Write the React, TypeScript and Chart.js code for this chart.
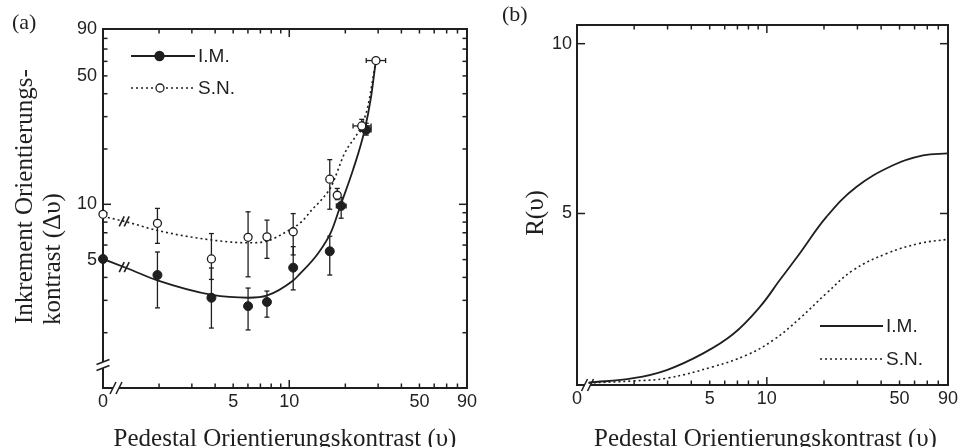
import React, { useEffect, useRef } from 'react';
import { Chart, registerables } from 'chart.js';

Chart.register(...registerables);

// ---------------- shared axis data ----------------
const logTickValues = [1, 2, 3, 4, 5, 6, 7, 8, 9, 10, 20, 30, 40, 50, 60, 70, 80, 90];
const xLabelValues = [1, 5, 10, 50, 90];
const xLabelTexts = ['0', '5', '10', '50', '90'];
const aYLabelValues = [5, 10, 50, 90];
const aYLabelTexts = ['5', '10', '50', '90'];
const bYTickValues = [5, 10];
const bYLabelTexts = ['5', '10'];
const seriesNames = ['I.M.', 'S.N.'];
const xTitle = 'Pedestal Orientierungskontrast (υ)';
const aYTitle = ['Inkrement Orientierungs-', 'kontrast (Δυ)'];
const bYTitle = 'R(υ)';
const panelLabels = ['(a)', '(b)'];

// ---------------- panel (a): measured points ----------------
const imX = [1, 1.96, 3.82, 6.01, 7.59, 10.5, 16.5, 19.0, 25.9];
const imY = [5.04, 4.12, 3.1, 2.79, 2.94, 4.52, 5.55, 9.8, 25.4];
const imYLo = [null, 2.73, 2.12, 2.07, 2.43, 3.42, 4.12, 8.4, 23.8];
const imYHi = [null, 5.5, 4.5, 3.5, 3.37, 5.88, 6.7, 10.9, 27.6];
const imXLo = [null, null, null, null, null, null, null, 17.9, 24.1];
const imXHi = [null, null, null, null, null, null, null, 20.2, 27.5];

const snX = [1, 1.96, 3.82, 6.01, 7.59, 10.5, 16.5, 18.1, 24.5, 29.2];
const snY = [8.82, 7.88, 5.04, 6.61, 6.65, 7.09, 13.7, 11.2, 26.7, 60.6];
const snYLo = [null, 6.13, 3.9, 4.03, 5.08, 5.3, 9.4, 10.6, 25.0, null];
const snYHi = [null, 9.5, 6.93, 9.1, 8.2, 8.9, 17.5, 12.2, 29.0, null];
const snXLo = [null, null, null, null, null, null, null, null, 22.0, 25.9];
const snXHi = [null, null, null, null, null, null, null, null, 27.5, 32.9];

// ---------------- panel (a): fitted curves ----------------
const imFitX = [1, 1.39, 1.96, 3.85, 6.06, 7.56, 10.5, 11.2, 14.3, 16.8, 19.0, 22.0, 25.4, 27.5, 29.2];
const imFitY = [5.04, 4.43, 3.85, 3.21, 3.1, 3.18, 3.85, 4.1, 5.41, 7.09, 10.1, 15.4, 25.4, 38.5, 61];
const snFitX = [1, 1.39, 1.96, 3.85, 6.06, 7.56, 9.9, 11.66, 13.2, 14.9, 16.8, 19.8, 24.3, 26.4, 29.2];
const snFitY = [8.6, 7.94, 7.2, 6.39, 6.17, 6.3, 7.2, 8.04, 9.31, 10.6, 12.5, 18.9, 26.5, 34, 61];

// ---------------- panel (b): R(υ) curves ----------------
const rImX = [1.15, 1.98, 2.97, 4.62, 6.65, 9.19, 11.7, 14.9, 20.6, 29.6, 46.2, 66.5, 90];
const rImY = [0.02, 0.15, 0.39, 0.88, 1.45, 2.25, 3.04, 3.82, 4.9, 5.78, 6.42, 6.71, 6.77];
const rSnX = [1.15, 1.98, 2.97, 5.22, 7.82, 10.8, 14.9, 20.6, 28.5, 42.7, 63.9, 90];
const rSnY = [0.01, 0.07, 0.15, 0.49, 0.83, 1.27, 1.91, 2.65, 3.33, 3.82, 4.12, 4.24];

// ---------------- styling ----------------
const SANS = '"Liberation Sans", Arial, Helvetica, sans-serif';
const SERIF = '"Liberation Serif", "Times New Roman", serif';
const INK = '#1f1f1f';
const TICK_TEXT = '#222222';
const DOT_DASH = [2, 3];

type Num = number | null;

const labelFor = (vals: number[], texts: string[]) => (v: any) => {
  const n = Number(v);
  const i = vals.findIndex((t) => Math.abs(t - n) < 1e-9);
  return i >= 0 ? texts[i] : '';
};

function line(ctx: CanvasRenderingContext2D, x1: number, y1: number, x2: number, y2: number) {
  ctx.beginPath();
  ctx.moveTo(x1, y1);
  ctx.lineTo(x2, y2);
  ctx.stroke();
}

function drawErrors(
  ctx: CanvasRenderingContext2D, xs: any, ys: any,
  X: number[], Y: number[], yLo: Num[], yHi: Num[], xLo: Num[], xHi: Num[],
) {
  const cap = 2.5;
  for (let i = 0; i < X.length; i++) {
    const px = xs.getPixelForValue(X[i]);
    const py = ys.getPixelForValue(Y[i]);
    const lo = yLo[i];
    const hi = yHi[i];
    if (lo != null && hi != null) {
      const a = ys.getPixelForValue(lo);
      const b = ys.getPixelForValue(hi);
      line(ctx, px, a, px, b);
      line(ctx, px - cap, a, px + cap, a);
      line(ctx, px - cap, b, px + cap, b);
    }
    const l = xLo[i];
    const h = xHi[i];
    if (l != null && h != null) {
      const a = xs.getPixelForValue(l);
      const b = xs.getPixelForValue(h);
      line(ctx, a, py, b, py);
      line(ctx, a, py - cap, a, py + cap);
      line(ctx, b, py - cap, b, py + cap);
    }
  }
}

function drawFrame(ctx: CanvasRenderingContext2D, area: any) {
  ctx.save();
  ctx.strokeStyle = INK;
  ctx.lineWidth = 2;
  ctx.strokeRect(area.left, area.top, area.right - area.left, area.bottom - area.top);
  ctx.restore();
}

function drawXTicks(ctx: CanvasRenderingContext2D, xs: any, area: any, vals: number[]) {
  ctx.save();
  ctx.strokeStyle = INK;
  ctx.lineWidth = 1.5;
  for (const v of vals) {
    if (v <= xs.min || v >= xs.max) continue;
    const px = xs.getPixelForValue(v);
    const len = v === 10 ? 8 : 4.5;
    line(ctx, px, area.bottom, px, area.bottom - len);
    line(ctx, px, area.top, px, area.top + len);
  }
  ctx.restore();
}

function drawYTicks(ctx: CanvasRenderingContext2D, ys: any, area: any, vals: number[], majors: number[]) {
  ctx.save();
  ctx.strokeStyle = INK;
  ctx.lineWidth = 1.5;
  for (const v of vals) {
    if (v <= ys.min || v >= ys.max) continue;
    const py = ys.getPixelForValue(v);
    const len = majors.includes(v) ? 8 : 4.5;
    line(ctx, area.left, py, area.left + len, py);
    line(ctx, area.right, py, area.right - len, py);
  }
  ctx.restore();
}

function xAxisBreak(ctx: CanvasRenderingContext2D, cx: number, y: number, gap: number) {
  ctx.save();
  ctx.fillStyle = '#fff';
  ctx.fillRect(cx - gap / 2, y - 2, gap, 4);
  ctx.strokeStyle = INK;
  ctx.lineWidth = 1.6;
  for (const x of [cx - gap / 2, cx + gap / 2]) line(ctx, x - 3, y + 6, x + 3, y - 6);
  ctx.restore();
}

function yAxisBreak(ctx: CanvasRenderingContext2D, x: number, cy: number, gap: number) {
  ctx.save();
  ctx.fillStyle = '#fff';
  ctx.fillRect(x - 2, cy - gap / 2, 4, gap);
  ctx.strokeStyle = INK;
  ctx.lineWidth = 1.6;
  for (const y of [cy - gap / 2, cy + gap / 2]) line(ctx, x - 6.5, y + 2.5, x + 6.5, y - 2.5);
  ctx.restore();
}

function logInterp(X: number[], Y: number[], x: number) {
  for (let i = 0; i < X.length - 1; i++) {
    if (x >= X[i] && x <= X[i + 1]) {
      const t = (Math.log(x) - Math.log(X[i])) / (Math.log(X[i + 1]) - Math.log(X[i]));
      return Math.exp(Math.log(Y[i]) + t * (Math.log(Y[i + 1]) - Math.log(Y[i])));
    }
  }
  return Y[0];
}

function curveBreak(ctx: CanvasRenderingContext2D, px: number, py: number) {
  ctx.save();
  ctx.strokeStyle = INK;
  ctx.lineWidth = 1.6;
  for (const dx of [-2.5, 2.5]) line(ctx, px + dx - 2.5, py + 5, px + dx + 2.5, py - 5);
  ctx.restore();
}

function serifText(ctx: CanvasRenderingContext2D, text: string, x: number, y: number, size: number, align: CanvasTextAlign, rot = 0) {
  ctx.save();
  ctx.fillStyle = INK;
  ctx.font = `${size}px ${SERIF}`;
  ctx.textAlign = align;
  ctx.textBaseline = 'alphabetic';
  ctx.translate(x, y);
  if (rot) ctx.rotate(rot);
  ctx.fillText(text, 0, 0);
  ctx.restore();
}

function legendRow(
  ctx: CanvasRenderingContext2D, x0: number, x1: number, y: number, dashed: boolean,
  marker: 'filled' | 'open' | null, mx: number, text: string,
) {
  ctx.save();
  ctx.strokeStyle = INK;
  ctx.lineWidth = dashed ? 1.6 : 1.8;
  ctx.setLineDash(dashed ? DOT_DASH : []);
  line(ctx, x0, y, x1, y);
  ctx.setLineDash([]);
  if (marker) {
    ctx.beginPath();
    ctx.arc(mx, y, marker === 'filled' ? 4.5 : 4, 0, Math.PI * 2);
    ctx.fillStyle = marker === 'filled' ? INK : '#fff';
    ctx.fill();
    ctx.lineWidth = 1.3;
    ctx.stroke();
  }
  ctx.fillStyle = INK;
  ctx.font = `19px ${SANS}`;
  ctx.textAlign = 'left';
  ctx.textBaseline = 'middle';
  ctx.fillText(text, x1 + 3, y + 1);
  ctx.restore();
}

const tickFont = { family: SANS, size: 18 };

function logScale(min: number, max: number, labelVals: number[], labelTexts: string[], padding: number, fit: (s: any) => void) {
  return {
    type: 'logarithmic',
    min,
    max,
    grid: { display: false, drawTicks: false },
    border: { display: false },
    afterBuildTicks: (s: any) => {
      s.ticks = logTickValues.filter((v) => v >= min && v <= max).map((v) => ({ value: v }));
    },
    afterFit: fit,
    ticks: {
      autoSkip: false,
      maxRotation: 0,
      minRotation: 0,
      padding,
      color: TICK_TEXT,
      font: tickFont,
      callback: labelFor(labelVals, labelTexts),
    },
  };
}

const pts = (X: number[], Y: number[]) => X.map((x, i) => ({ x, y: Y[i] }));

function configA(): any {
  const plugin = {
    id: 'panelA',
    beforeDatasetsDraw(chart: any) {
      const { ctx, chartArea: area } = chart;
      const xs = chart.scales.x;
      const ys = chart.scales.y;
      drawFrame(ctx, area);
      drawXTicks(ctx, xs, area, logTickValues);
      drawYTicks(ctx, ys, area, logTickValues, [10]);
      xAxisBreak(ctx, area.left + 13, area.bottom, 6);
      yAxisBreak(ctx, area.left, area.bottom - 23, 6);
      ctx.save();
      ctx.strokeStyle = INK;
      ctx.lineWidth = 1.3;
      drawErrors(ctx, xs, ys, imX, imY, imYLo, imYHi, imXLo, imXHi);
      drawErrors(ctx, xs, ys, snX, snY, snYLo, snYHi, snXLo, snXHi);
      ctx.restore();
    },
    afterDatasetsDraw(chart: any) {
      const { ctx } = chart;
      const xs = chart.scales.x;
      const ys = chart.scales.y;
      const bx = 1.3;
      curveBreak(ctx, xs.getPixelForValue(bx), ys.getPixelForValue(logInterp(imFitX, imFitY, bx)));
      curveBreak(ctx, xs.getPixelForValue(bx), ys.getPixelForValue(logInterp(snFitX, snFitY, bx)));
    },
    afterDraw(chart: any) {
      const { ctx, chartArea: area } = chart;
      legendRow(ctx, area.left + 28, area.left + 92, area.top + 27, false, 'filled', area.left + 56.5, seriesNames[0]);
      legendRow(ctx, area.left + 28, area.left + 92, area.top + 59, true, 'open', area.left + 57, seriesNames[1]);
      serifText(ctx, xTitle, (area.left + area.right) / 2, chart.height - 1, 25, 'center');
      serifText(ctx, aYTitle[0], 31.5, area.bottom - 64, 25, 'left', -Math.PI / 2);
      serifText(ctx, aYTitle[1], 60, area.bottom - 63, 25, 'left', -Math.PI / 2);
      serifText(ctx, panelLabels[0], 12, 29, 22, 'left');
    },
  };
  return {
    type: 'scatter',
    data: {
      datasets: [
        {
          label: seriesNames[0] + ' fit', data: pts(imFitX, imFitY), showLine: true, pointRadius: 0,
          borderColor: INK, borderWidth: 1.8, cubicInterpolationMode: 'monotone', order: 3,
        },
        {
          label: seriesNames[1] + ' fit', data: pts(snFitX, snFitY), showLine: true, pointRadius: 0,
          borderColor: INK, borderWidth: 1.6, borderDash: DOT_DASH, cubicInterpolationMode: 'monotone', order: 2,
        },
        {
          label: seriesNames[0], data: pts(imX, imY), pointRadius: 4.5, pointBackgroundColor: INK,
          pointBorderColor: INK, pointBorderWidth: 1, clip: false, order: 1,
        },
        {
          label: seriesNames[1], data: pts(snX, snY), pointRadius: 4, pointBackgroundColor: '#fff',
          pointBorderColor: INK, pointBorderWidth: 1.3, clip: false, order: 0,
        },
      ],
    },
    options: {
      responsive: false,
      animation: false,
      events: [],
      layout: { padding: { left: 0, right: 10, top: 29, bottom: 0 } },
      plugins: { legend: { display: false }, tooltip: { enabled: false } },
      scales: {
        x: logScale(1, 90, xLabelValues, xLabelTexts, 3, (s: any) => { s.height = 59; }),
        y: logScale(1, 90, aYLabelValues, aYLabelTexts, 6, (s: any) => { s.width = 103; }),
      },
    },
    plugins: [plugin],
  };
}

function configB(): any {
  const plugin = {
    id: 'panelB',
    beforeDatasetsDraw(chart: any) {
      const { ctx, chartArea: area } = chart;
      drawFrame(ctx, area);
      drawXTicks(ctx, chart.scales.x, area, logTickValues);
      drawYTicks(ctx, chart.scales.y, area, bYTickValues, bYTickValues);
      xAxisBreak(ctx, area.left + 10.5, area.bottom, 6);
    },
    afterDraw(chart: any) {
      const { ctx, chartArea: area } = chart;
      legendRow(ctx, area.right - 128, area.right - 65, area.bottom - 59, false, null, 0, seriesNames[0]);
      legendRow(ctx, area.right - 128, area.right - 65, area.bottom - 26, true, null, 0, seriesNames[1]);
      serifText(ctx, xTitle, (area.left + area.right) / 2 + 3, chart.height - 1, 25, 'center');
      serifText(ctx, bYTitle, 63, 213, 25, 'center', -Math.PI / 2);
      serifText(ctx, panelLabels[1], 22, 21, 22, 'left');
    },
  };
  return {
    type: 'scatter',
    data: {
      datasets: [
        {
          label: seriesNames[0], data: pts(rImX, rImY), showLine: true, pointRadius: 0,
          borderColor: INK, borderWidth: 1.8, tension: 0.4,
        },
        {
          label: seriesNames[1], data: pts(rSnX, rSnY), showLine: true, pointRadius: 0,
          borderColor: INK, borderWidth: 1.6, borderDash: DOT_DASH, tension: 0.4,
        },
      ],
    },
    options: {
      responsive: false,
      animation: false,
      events: [],
      layout: { padding: { left: 0, right: 17, top: 25, bottom: 0 } },
      plugins: { legend: { display: false }, tooltip: { enabled: false } },
      scales: {
        x: logScale(1, 90, xLabelValues, xLabelTexts, 3, (s: any) => { s.height = 62; }),
        y: {
          type: 'linear',
          min: -0.05,
          max: 10.55,
          grid: { display: false, drawTicks: false },
          border: { display: false },
          afterBuildTicks: (s: any) => { s.ticks = bYTickValues.map((v) => ({ value: v })); },
          afterFit: (s: any) => { s.width = 97; },
          ticks: {
            padding: 5,
            color: TICK_TEXT,
            font: tickFont,
            callback: labelFor(bYTickValues, bYLabelTexts),
          },
        },
      },
    },
    plugins: [plugin],
  };
}

export default function App() {
  const refA = useRef<HTMLCanvasElement>(null);
  const refB = useRef<HTMLCanvasElement>(null);
  useEffect(() => {
    const a = new Chart(refA.current as HTMLCanvasElement, configA());
    const b = new Chart(refB.current as HTMLCanvasElement, configB());
    return () => {
      a.destroy();
      b.destroy();
    };
  }, []);
  return (
    <div style={{ position: 'fixed', left: 0, top: 0, width: 965, height: 447, background: '#fff', overflow: 'hidden' }}>
      <canvas ref={refA} width={480} height={447} style={{ position: 'absolute', left: 0, top: 0, width: 480, height: 447 }} />
      <canvas ref={refB} width={485} height={447} style={{ position: 'absolute', left: 480, top: 0, width: 485, height: 447 }} />
    </div>
  );
}
